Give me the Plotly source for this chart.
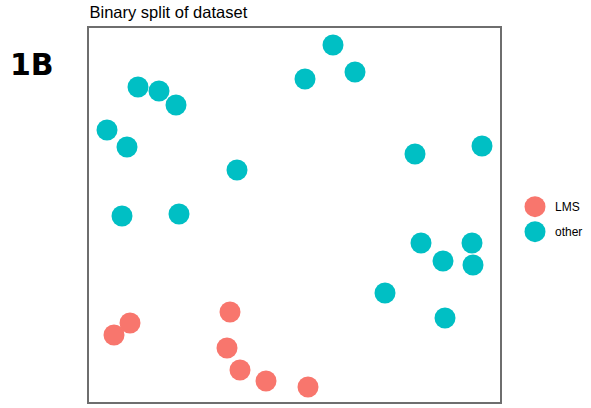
import plotly.graph_objects as go

# Embedding coordinates (arbitrary units)
lms_x = [25, 41, 141, 138, 151, 177, 219]
lms_y = [67, 79, 90, 54, 32, 21, 15]

other_x = [244, 266, 216, 49, 70, 87, 18, 38, 148, 326, 393, 33, 90, 332, 354, 383, 384, 296, 356]
other_y = [357, 330, 323, 315, 311, 297, 272, 255, 232, 248, 256, 186, 188, 159, 141, 159, 137, 109, 84]

groups = ["LMS", "other"]
colors = ["#F8766D", "#00BFC4"]

W, H = 591, 408
L, T, B = 89, 28, 6
PW = W - L            # paper width (r margin = 0)
PLOT_W = 411          # main plot width in px
PLOT_H = H - T - B

fig = go.Figure()
for name, xs, ys, c in zip(groups, [lms_x, other_x], [lms_y, other_y], colors):
    fig.add_trace(go.Scatter(x=xs, y=ys, mode="markers", name=name, showlegend=False,
                             marker=dict(size=21, color=c, line=dict(width=0))))

# hand-made legend in its own small axes (pixel units)
leg_x = 535
leg_y0, leg_dy = 206.7, 25
fig.add_trace(go.Scatter(x=[leg_x] * len(groups),
                         y=[leg_y0 + i * leg_dy for i in range(len(groups))],
                         mode="markers", showlegend=False, hoverinfo="skip",
                         marker=dict(size=21, color=colors, line=dict(width=0)),
                         xaxis="x2", yaxis="y2"))

axis_common = dict(showgrid=False, zeroline=False, showticklabels=False, ticks="",
                   showline=True, mirror=True, linecolor="#6e6e6e", linewidth=2)
hidden = dict(showgrid=False, zeroline=False, showticklabels=False, ticks="",
              showline=False, fixedrange=True)

annotations = [dict(text="<b>1B</b>", xref="paper", yref="paper",
                    x=(8 - L) / PW, xanchor="left",
                    y=(H - B - 64.5) / PLOT_H, yanchor="middle", showarrow=False,
                    font=dict(size=30, color="black", family="DejaVu Sans"))]
for i, g in enumerate(groups):
    annotations.append(dict(text=g, xref="x2", yref="y2", x=553, xanchor="left",
                            y=leg_y0 + i * leg_dy, yanchor="middle", showarrow=False,
                            font=dict(size=12, color="black",
                                      family="Liberation Sans, Arial, sans-serif")))

fig.update_layout(
    width=W, height=H,
    margin=dict(l=L, r=0, t=T, b=B),
    paper_bgcolor="white", plot_bgcolor="white",
    font=dict(family="Liberation Sans, Arial, sans-serif", color="black"),
    title=dict(text="Binary split of dataset", x=89.5 / W, xanchor="left",
               y=1 - 12.5 / H, yanchor="middle", font=dict(size=16.5, color="black")),
    xaxis=dict(domain=[0, PLOT_W / PW], range=[0, 411], **axis_common),
    yaxis=dict(domain=[0, 1], range=[0, 374], **axis_common),
    xaxis2=dict(domain=[(515 - L) / PW, 1], range=[515, W], anchor="y2", **hidden),
    yaxis2=dict(domain=[0, 1], range=[H - B, T], anchor="x2", **hidden),
    annotations=annotations,
)

fig.write_html("out.html", config={"displayModeBar": False},
               post_script="document.body.style.margin='0';")
